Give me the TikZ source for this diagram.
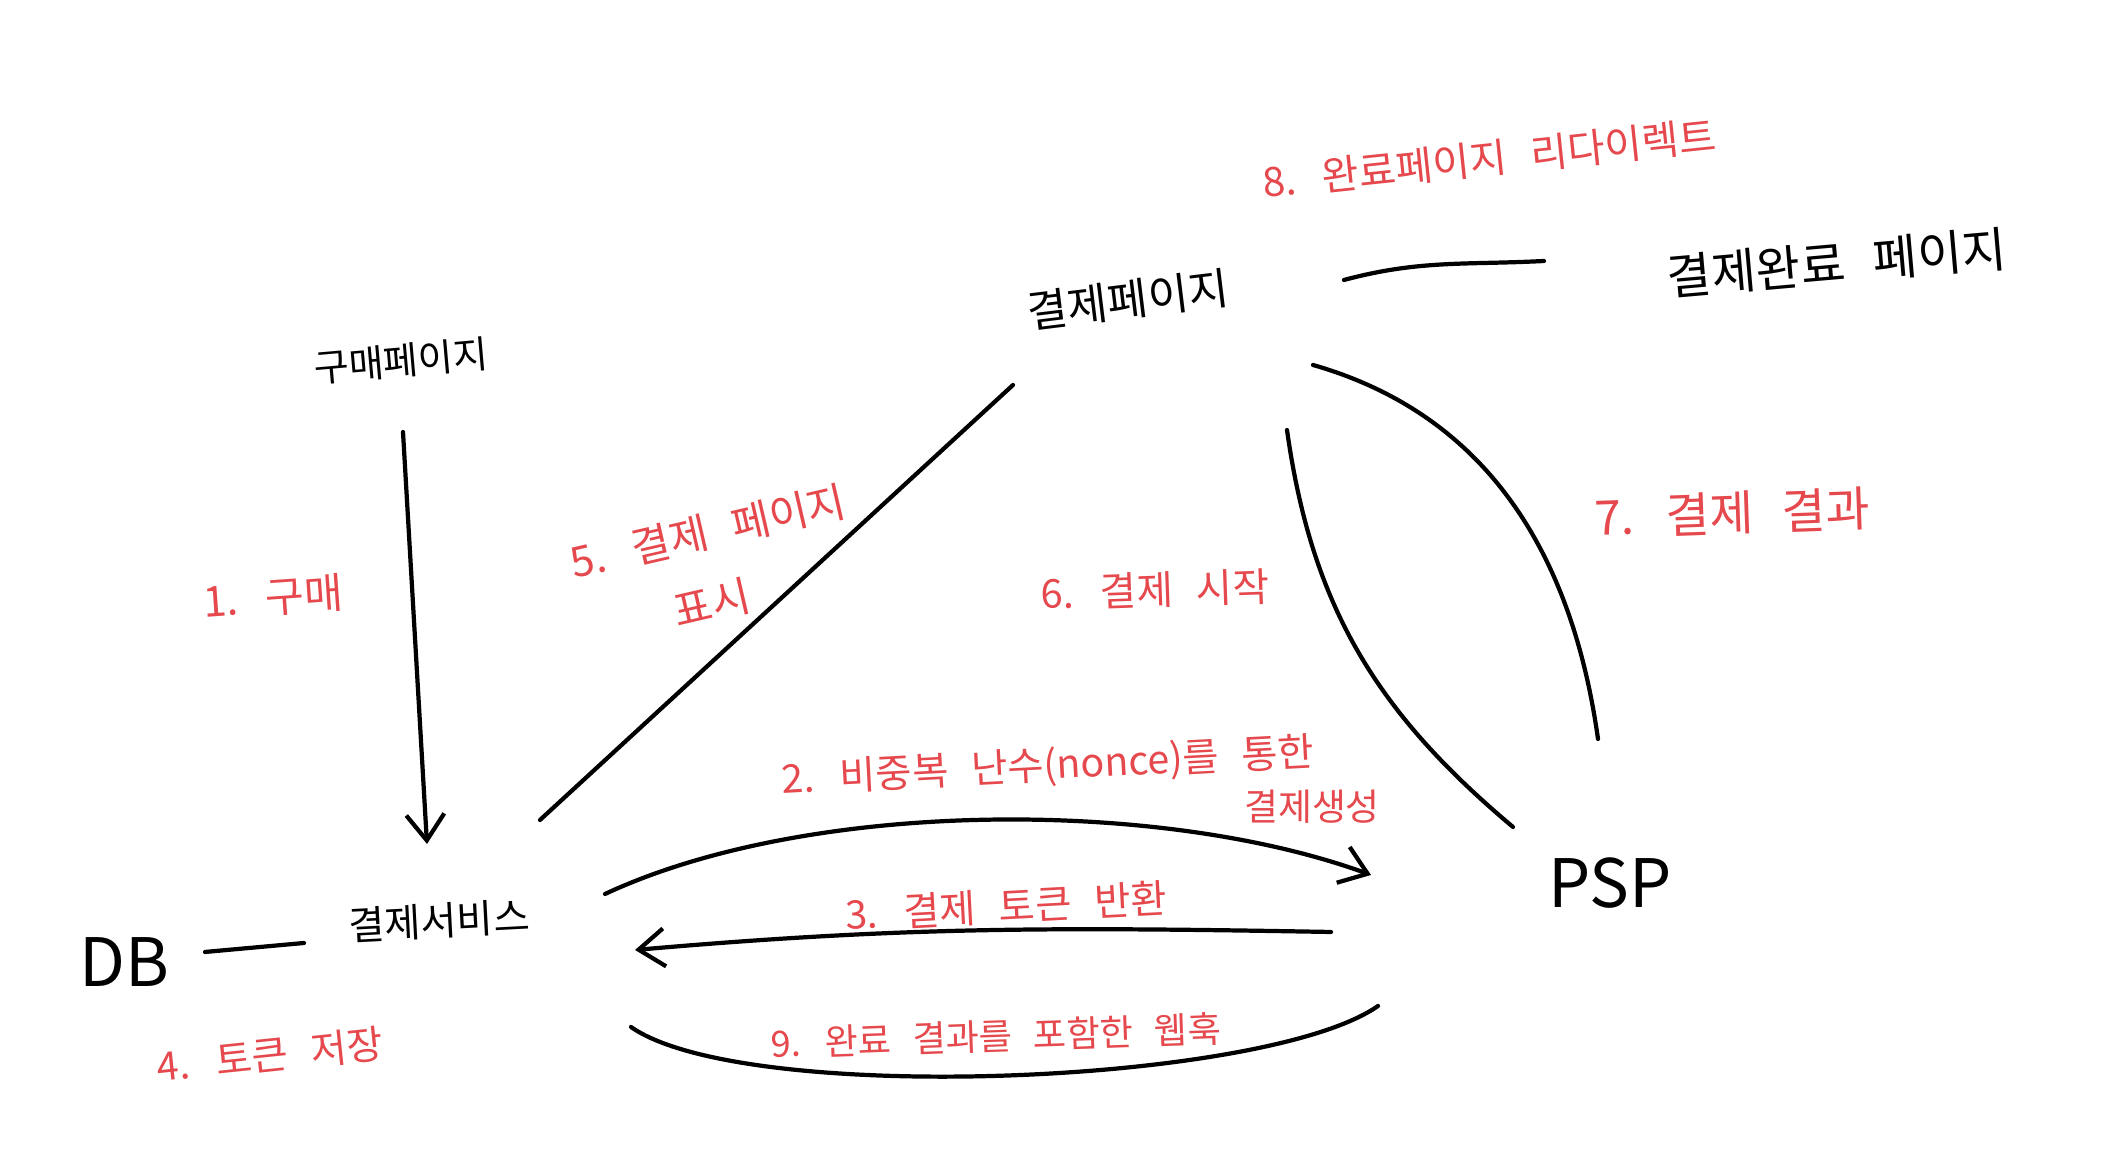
\documentclass[tikz,border=0pt]{standalone}
\usepackage{fontspec}
\setmainfont{Noto Sans CJK KR}[WordSpace=2.6]
\usepackage{tikz}
\usetikzlibrary{calc}
\usetikzlibrary{positioning}
\usetikzlibrary{arrows.meta}
\definecolor{penred}{RGB}{229,72,77}

\begin{document}
\begin{tikzpicture}[scale=1,
    >={Straight Barb[length=2.6mm,width=3.8mm]},
    pen/.style={line width=1.2pt,line cap=round,line join=round},
    page/.style={inner sep=0pt,font=\fontsize{12}{14}\selectfont},
    note/.style={inner sep=0pt,text=penred,font=\fontsize{11}{13}\selectfont}]
    \useasboundingbox (0,0) rectangle (21.18,11.7);
    \node[page,rotate=5,font=\fontsize{10.8}{12}\selectfont] (buy) at (4.01,8.09) {구매페이지};
    \node[page,rotate=7,font=\fontsize{12.5}{14}\selectfont] (pay) at (11.28,8.70) {결제페이지};
    \node[page,rotate=5,font=\fontsize{13.8}{16}\selectfont] (done) at (18.37,9.07) {결제완료 페이지};
    \node[page,rotate=3,font=\fontsize{11.2}{13}\selectfont] (svc) at (4.39,2.49) {결제서비스};
    \node[page,font=\fontsize{19}{22}\selectfont] (db) at (1.24,2.08) {DB};
    \node[page,font=\fontsize{19}{22}\selectfont] (psp) at (16.10,2.87) {PSP};

    \node[note,rotate=6,font=\fontsize{11.5}{13}\selectfont] (lredirect) at (14.89,10.11) {8. 완료페이지 리다이렉트};
    \node[note,rotate=4,font=\fontsize{12}{14}\selectfont] (lbuy) at (2.73,5.73) {1. 구매};
    \node[note,rotate=13,align=center,font=\fontsize{12}{20}\selectfont] (lshow) at (7.16,6.04) {5. 결제 페이지\\표시\hspace*{0.25cm}};
    \node[note,rotate=2,font=\fontsize{11.3}{13}\selectfont] (lstart) at (11.55,5.80) {6. 결제 시작};
    \node[note,rotate=2,font=\fontsize{13.6}{15}\selectfont] (lresult) at (17.32,6.57) {7. 결제 결과};
    \node[note,rotate=3,font=\fontsize{11.2}{13}\selectfont] (lnonce) at (10.48,4.03) {2. 비중복 난수(nonce)를 통한};
    \node[note,font=\fontsize{10.5}{12}\selectfont] (lnonceb) at (13.12,3.63) {결제생성};
    \node[note,rotate=3,font=\fontsize{11.2}{13}\selectfont] (ltoken) at (10.06,2.64) {3. 결제 토큰 반환};
    \node[note,rotate=6,font=\fontsize{11.2}{13}\selectfont] (lsave) at (2.70,1.15) {4. 토큰 저장};
    \node[note,rotate=2,font=\fontsize{10.3}{12}\selectfont] (lhook) at (9.96,1.34) {9. 완료 결과를 포함한 웹훅};

    \draw[pen,->] ($(buy)+(0.02,-0.71)$) -- ($(svc)+(-0.12,0.77)$);
    \draw[pen] ($(svc)+(1.01,1.01)$) -- ($(pay)+(-1.15,-0.85)$);
    \draw[pen] ($(pay)+(1.59,-1.30)$) to[out=-82,in=140] ($(psp)+(-0.97,0.56)$);
    \draw[pen] ($(pay)+(1.85,-0.65)$) to[out=-16,in=98] ($(psp)+(-0.12,1.44)$);
    \draw[pen] ($(pay)+(2.16,0.20)$) to[out=15,in=183] ($(done)+(-2.93,0.02)$);
    \draw[pen] ($(db)+(0.81,0.10)$) -- ($(svc)+(-1.35,-0.22)$);
    \draw[pen,->] ($(svc)+(1.66,0.27)$) to[out=25,in=160,looseness=0.75] ($(psp)+(-2.39,0.08)$);
    \draw[pen,->] ($(psp)+(-2.79,-0.49)$) to[out=179,in=5] ($(svc)+(1.96,-0.29)$);
    \draw[pen] ($(psp)+(-2.32,-1.23)$) to[out=-145,in=-35,looseness=0.47] ($(svc)+(1.92,-1.06)$);
\end{tikzpicture}
\end{document}
